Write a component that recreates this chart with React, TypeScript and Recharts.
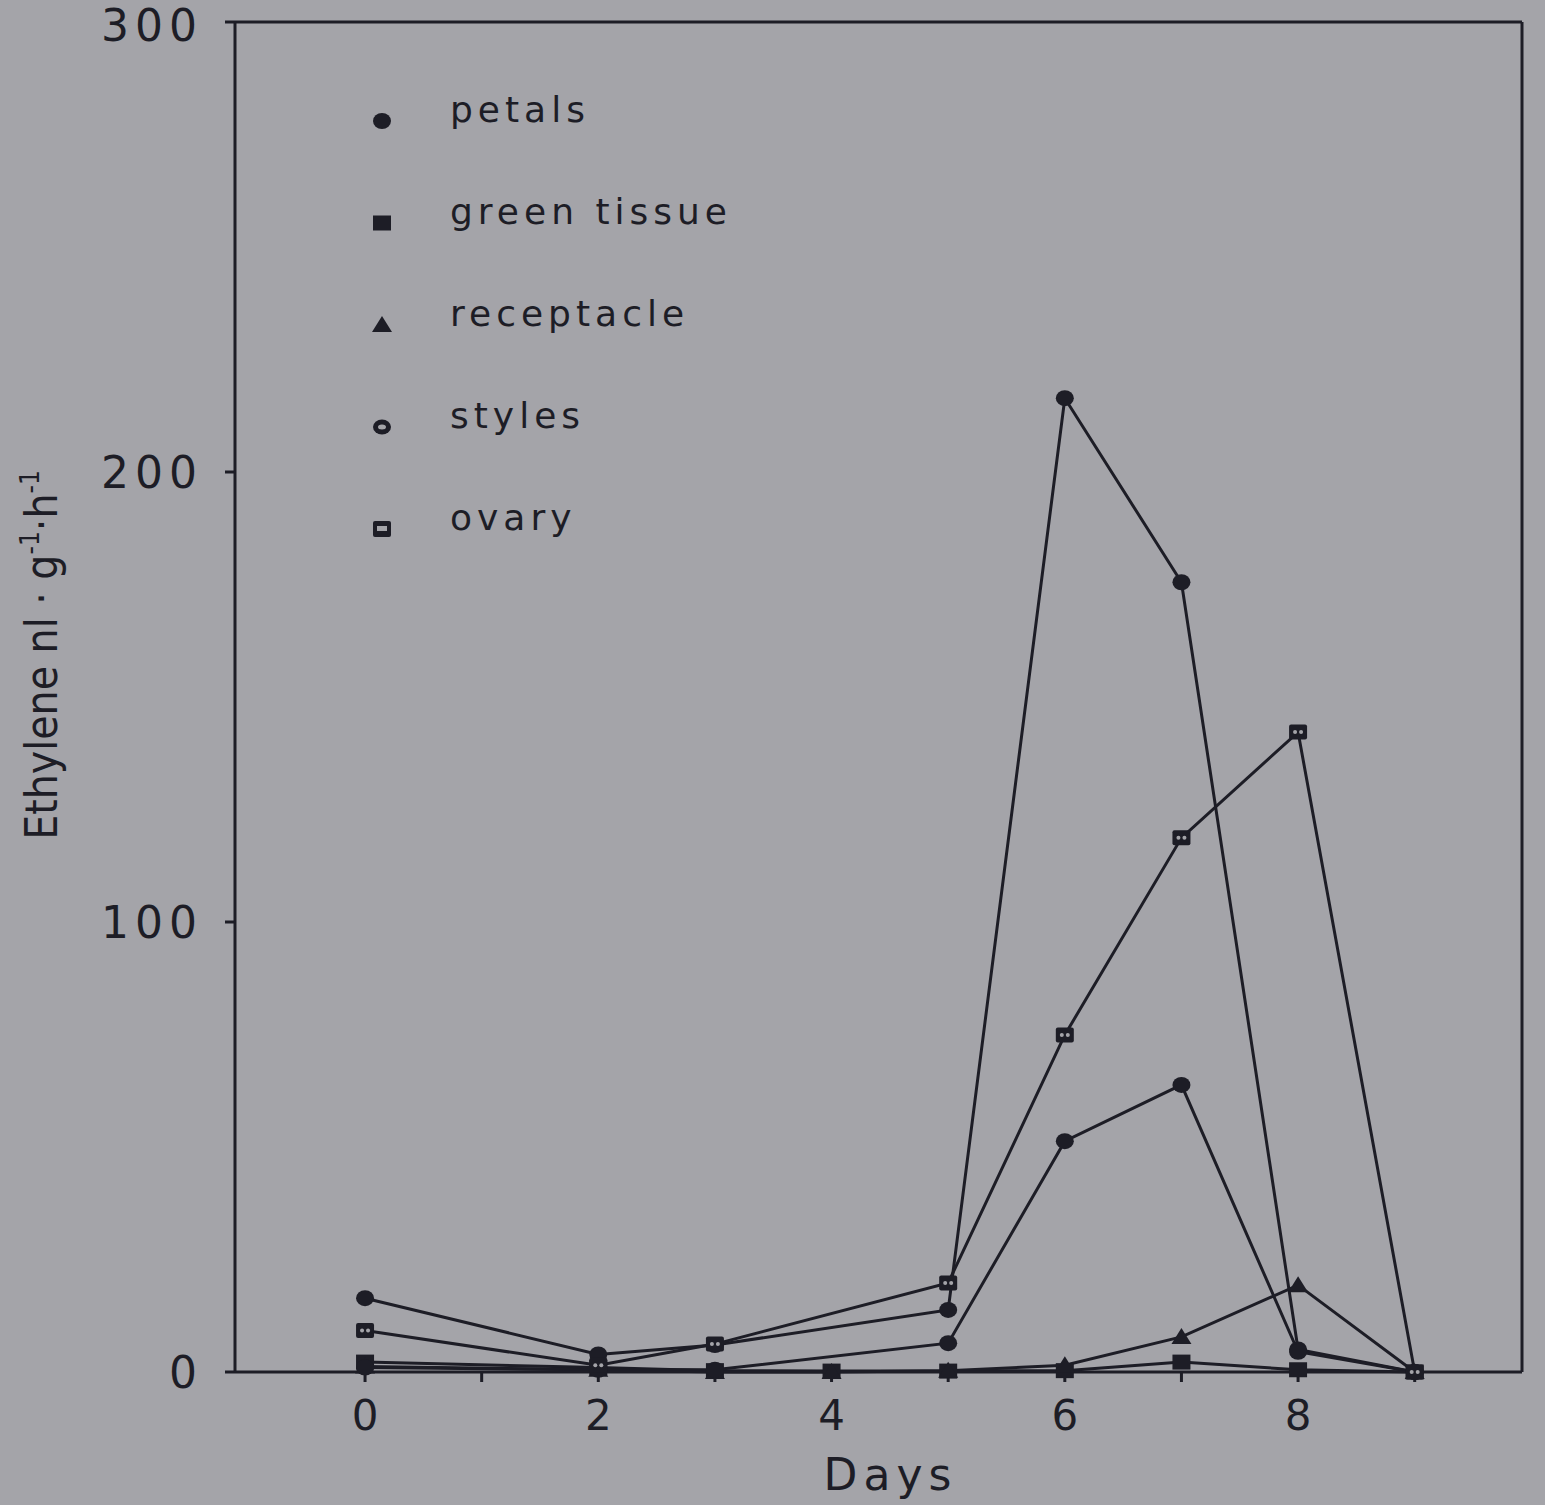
import React from 'react';
import { LineChart, Line, XAxis, YAxis, Legend, ReferenceLine } from 'recharts';

// ---- data ----
const days = [0, 2, 3, 4, 5, 6, 7, 8, 9];
const petals = [16.4, 3.9, 6.0, null, 13.8, 216.4, 175.5, 5.0, 0];
const greenTissue = [2.2, 1.0, 0.3, 0.2, 0.2, 0.3, 2.2, 0.5, 0];
const receptacle = [1.2, 0.5, 0, 0, 0.3, 1.5, 7.8, 19.3, 0];
const styles = [1.0, 0.5, 0.5, null, 6.4, 51.3, 63.8, 4.5, 0];
const ovary = [9.2, 1.5, 6.2, null, 19.8, 74.9, 118.7, 142.2, 0];

const seriesNames = ['petals', 'green tissue', 'receptacle', 'styles', 'ovary'];
const seriesKeys = ['petals', 'greenTissue', 'receptacle', 'styles', 'ovary'];
const legendShapes = ['circle', 'square', 'triangle', 'ring', 'openSquare'];
const dotShapes = ['circle', 'square', 'triangle', 'circle', 'dottedSquare'];

const xTicks = [0, 1, 2, 3, 4, 5, 6, 7, 8, 9];
const xTickLabels = ['0', '', '2', '', '4', '', '6', '', '8', ''];
const yTicks = [0, 100, 200, 300];
const xDomain = [-1.115, 9.92];
const yDomain = [0, 300];

const data = days.map((d, i) => ({
  day: d,
  petals: petals[i],
  greenTissue: greenTissue[i],
  receptacle: receptacle[i],
  styles: styles[i],
  ovary: ovary[i],
}));

const INK = '#1d1d26';
const BG = '#a4a4a9';
const W = 1545;
const H = 1505;

function Marker({ shape, cx, cy }: { shape: string; cx: number; cy: number }) {
  switch (shape) {
    case 'circle':
      return <ellipse cx={cx} cy={cy} rx={9} ry={8} fill={INK} />;
    case 'square':
      return <rect x={cx - 9} y={cy - 7.5} width={18} height={15} fill={INK} />;
    case 'triangle':
      return <polygon points={`${cx - 10},${cy + 7} ${cx + 10},${cy + 7} ${cx},${cy - 9}`} fill={INK} />;
    case 'ring':
      return (
        <g>
          <ellipse cx={cx} cy={cy} rx={9} ry={7.5} fill={INK} />
          <ellipse cx={cx} cy={cy} rx={4} ry={2.5} fill={BG} />
        </g>
      );
    case 'openSquare':
      return (
        <g>
          <rect x={cx - 9} y={cy - 8} width={18} height={16} rx={2} fill={INK} />
          <rect x={cx - 5} y={cy - 3} width={10} height={5} fill={BG} />
        </g>
      );
    case 'dottedSquare':
      return (
        <g>
          <rect x={cx - 9} y={cy - 7.5} width={18} height={15} rx={2} fill={INK} />
          <circle cx={cx - 3} cy={cy} r={2} fill={BG} />
          <circle cx={cx + 3} cy={cy} r={2} fill={BG} />
        </g>
      );
    default:
      return null;
  }
}

const makeDot = (shape: string) => (props: any) => {
  const { cx, cy, index } = props;
  if (cx == null || cy == null || Number.isNaN(cy)) return <g key={`d-${shape}-${index}`} />;
  return (
    <g key={`d-${shape}-${index}`}>
      <Marker shape={shape} cx={cx} cy={cy} />
    </g>
  );
};

const renderLegend = () => (
  <svg width={800} height={600} style={{ display: 'block', overflow: 'visible' }}>
    {seriesNames.map((name, i) => {
      const base = 122 + i * 102;
      return (
        <g key={name}>
          <Marker shape={legendShapes[i]} cx={382} cy={base - 1} />
          <text
            x={450}
            y={base}
            fill={INK}
            fontFamily="DejaVu Sans"
            fontSize={36}
            letterSpacing={5}
          >
            {name}
          </text>
        </g>
      );
    })}
  </svg>
);

const YLabel = () => (
  <text
    x={57}
    y={655}
    transform="rotate(-90 57 655)"
    textAnchor="middle"
    fill={INK}
    fontFamily="'Liberation Sans Narrow', 'DejaVu Sans Condensed', sans-serif"
    fontSize={44}
  >
    Ethylene nl · g
    <tspan fontSize={26} dy={-18}>-1</tspan>
    <tspan dy={18}>·h</tspan>
    <tspan fontSize={26} dy={-18}>-1</tspan>
  </text>
);

const DaysLabel = (props: any) => {
  const vb = props.viewBox || { x: 235, y: 1372, width: 1287, height: 60 };
  return (
    <text
      x={vb.x + vb.width / 2 + 12}
      y={vb.y + 118}
      textAnchor="middle"
      fill={INK}
      fontFamily="DejaVu Sans"
      fontSize={44}
      letterSpacing={6}
    >
      Days
    </text>
  );
};

const tickStyle = { fill: INK, fontFamily: 'DejaVu Sans', fontSize: 42 };

export default function App() {
  return (
    <div style={{ position: 'fixed', left: 0, top: 0, width: W, height: H, background: BG, overflow: 'hidden' }}>
      <LineChart
        width={W}
        height={H}
        data={data}
        margin={{ top: 22, right: 23, left: 100, bottom: 73 }}
      >
        <XAxis
          xAxisId="bottom"
          dataKey="day"
          type="number"
          domain={xDomain}
          ticks={xTicks}
          tickFormatter={(v: number) => xTickLabels[xTicks.indexOf(v)] ?? ''}
          allowDataOverflow
          height={60}
          tickSize={10}
          tickMargin={18}
          tick={{ ...tickStyle, letterSpacing: 0 }}
          stroke={INK}
          strokeWidth={3}
          tickLine={{ stroke: INK, strokeWidth: 3 }}
          axisLine={{ stroke: INK, strokeWidth: 3 }}
          label={<DaysLabel />}
        />
        <YAxis
          yAxisId="left"
          type="number"
          domain={yDomain}
          ticks={yTicks}
          width={135}
          tickSize={10}
          tickMargin={22}
          tick={{ ...tickStyle, fontSize: 44, letterSpacing: 6 }}
          tickLine={{ stroke: INK, strokeWidth: 3 }}
          axisLine={{ stroke: INK, strokeWidth: 3 }}
        />
        <ReferenceLine xAxisId="bottom" yAxisId="left" y={yDomain[1]} stroke={INK} strokeWidth={3} ifOverflow="visible" />
        <ReferenceLine xAxisId="bottom" yAxisId="left" x={xDomain[1]} stroke={INK} strokeWidth={3} ifOverflow="visible" />
        {seriesKeys.map((k, i) => (
          <Line
            key={k}
            xAxisId="bottom"
            yAxisId="left"
            type="linear"
            dataKey={k}
            name={seriesNames[i]}
            stroke={INK}
            strokeWidth={3}
            connectNulls
            dot={makeDot(dotShapes[i])}
            activeDot={false}
            isAnimationActive={false}
          />
        ))}
        <Legend
          layout="vertical"
          align="center"
          verticalAlign="middle"
          content={renderLegend}
          wrapperStyle={{ left: 0, top: 0, width: 800, height: 600, pointerEvents: 'none' }}
        />
      </LineChart>
      <svg width={W} height={H} style={{ position: 'absolute', left: 0, top: 0, pointerEvents: 'none' }}>
        <YLabel />
      </svg>
    </div>
  );
}
